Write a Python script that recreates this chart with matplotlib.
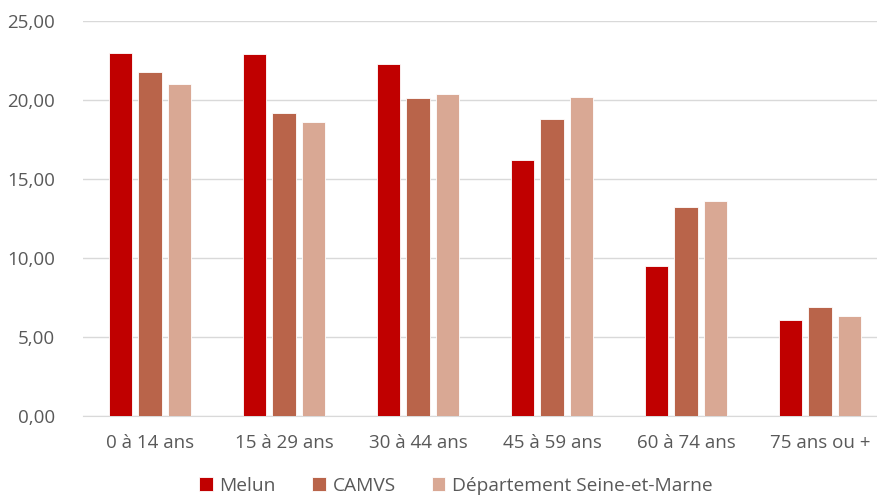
import numpy as np
import matplotlib.pyplot as plt

# Data
categories = ["0 à 14 ans", "15 à 29 ans", "30 à 44 ans", "45 à 59 ans", "60 à 74 ans", "75 ans ou +"]
melun = [23.0, 22.9, 22.3, 16.2, 9.5, 6.1]
camvs = [21.8, 19.2, 20.1, 18.8, 13.2, 6.9]
departement = [21.0, 18.6, 20.4, 20.2, 13.6, 6.3]
series_names = ["Melun", "CAMVS", "Département Seine-et-Marne"]
colors = ["#C00000", "#B9644A", "#D9A894"]

plt.rcParams['font.family'] = ['Open Sans', 'DejaVu Sans']

fig = plt.figure(figsize=(8.78, 4.97), dpi=100)
ax = fig.add_axes([83 / 878, 81 / 497, 804 / 878, 395 / 497])

x = np.arange(len(categories))
w = 0.172
step = 0.22
for i, (vals, name) in enumerate(zip([melun, camvs, departement], series_names)):
    ax.bar(x + (i - 1) * step, vals, width=w, color=colors[i], label=name,
           edgecolor="white", linewidth=0.6, zorder=3)

ax.set_xlim(-0.5, 5.5)
ax.set_ylim(0, 25)
ax.set_yticks(np.arange(0, 26, 5))
ax.set_yticklabels([f"{v:.2f}".replace(".", ",") for v in np.arange(0, 26, 5)])
ax.set_xticks(x)
ax.set_xticklabels(categories)
ax.grid(axis="y", color="#D9D9D9", linewidth=1, zorder=0)
for s in ["top", "right", "left"]:
    ax.spines[s].set_visible(False)
ax.spines["bottom"].set_color("#D9D9D9")
ax.tick_params(axis="both", length=0, labelsize=13.5, colors="#595959")
ax.tick_params(axis="x", pad=13)
ax.tick_params(axis="y", pad=20)

leg = fig.legend(loc="lower center", bbox_to_anchor=(456 / 878, -0.03), ncol=3, frameon=False,
                 fontsize=13.8, handlelength=0.7, handleheight=0.7, columnspacing=1.9,
                 handletextpad=0.35)
for t in leg.get_texts():
    t.set_color("#595959")

fig.savefig("out.png", dpi=100)
